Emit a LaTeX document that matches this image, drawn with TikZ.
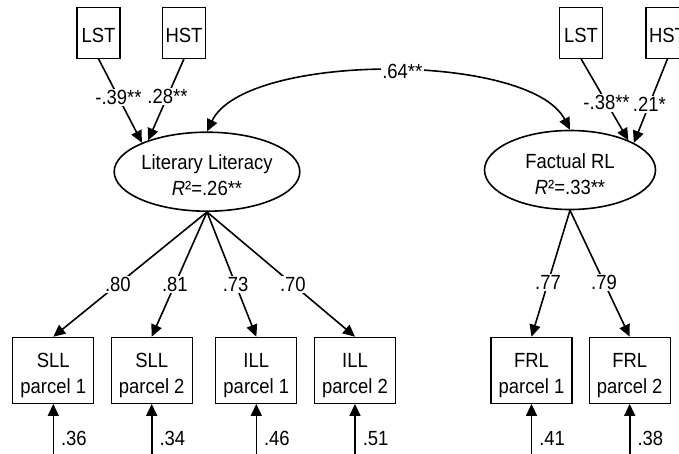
\documentclass[tikz,border=0pt]{standalone}
\usepackage{fontspec}
\setmainfont{Liberation Sans}[FakeStretch=0.9]
\usetikzlibrary{shapes.geometric,arrows.meta}
\newcommand{\obsstrut}{\rule{0pt}{24pt}}
\newcommand{\covstrut}{\rule{0pt}{20pt}}
\newcommand{\latstrut}{\rule{0pt}{22.5pt}}
\begin{document}
\begin{tikzpicture}[x=1pt,y=-1pt,
  font=\fontsize{20.5}{26}\selectfont,
  box/.style={draw, line width=1.2pt, inner sep=0pt, align=center},
  obs/.style={box, minimum width=81pt, minimum height=66pt},
  cov/.style={box, minimum width=43pt, minimum height=51pt},
  lat/.style={draw, ellipse, line width=1.6pt, inner sep=0pt, minimum width=171pt, minimum height=79pt, align=center},
  tip/.tip={Triangle[length=12pt,width=11pt]},
  arr/.style={line width=1.6pt, -tip},
  dbl/.style={line width=1.6pt, tip-tip},
  coef/.style={fill=white, inner sep=1.5pt},
  err/.style={anchor=west, inner sep=1pt, xshift=6pt}]
\useasboundingbox (0,0) rectangle (679,454);
\clip (0,0) rectangle (679,454);
% exogenous observed
\node[cov] (lst1) at (98.5,32.7) {\covstrut LST};
\node[cov] (hst1) at (184,32.7) {\covstrut HST};
\node[cov] (lst2) at (581,32.7) {\covstrut LST};
\node[cov] (hst2) at (667.5,32.7) {\covstrut HST};
% latent
\node[lat] (ll) at (207,171.7) {\latstrut Literary Literacy\\\textit{R}²=.26**};
\node[lat] (fr) at (570,170) {\latstrut Factual RL\\\textit{R}²=.33**};
% indicators
\node[obs] (s1) at (53.3,370.3) {\obsstrut SLL\\parcel 1};
\node[obs] (s2) at (151.7,370.3) {\obsstrut SLL\\parcel 2};
\node[obs] (i1) at (256.3,370.3) {\obsstrut ILL\\parcel 1};
\node[obs] (i2) at (355,370.3) {\obsstrut ILL\\parcel 2};
\node[obs] (f1) at (531.5,370.3) {\obsstrut FRL\\parcel 1};
\node[obs] (f2) at (629.7,370.3) {\obsstrut FRL\\parcel 2};
% error sources
\coordinate (e1) at (53.3,456);
\coordinate (e2) at (151.7,456);
\coordinate (e3) at (256.3,456);
\coordinate (e4) at (355,456);
\coordinate (e5) at (531.5,456);
\coordinate (e6) at (629.7,456);
% regressions
\draw[arr] (lst1.south) -- node[coef,pos=0.46]{-.39**} (ll.156);
\draw[arr] (hst1.south) -- node[coef,pos=0.46]{.28**} (ll.152);
\draw[arr] (lst2.south) -- node[coef,pos=0.54]{-.38**} (fr.27);
\draw[arr] (hst2.south) -- node[coef,pos=0.54]{.21*} (fr.23);
% covariance
\draw[dbl] (ll.north) .. controls (245,52) and (530,52) .. node[coef,pos=0.53]{.64**} (fr.north);
% loadings
\draw[arr] (ll.south) -- node[coef,pos=0.58]{.80} (s1.north);
\draw[arr] (ll.south) -- node[coef,pos=0.58]{.81} (s2.north);
\draw[arr] (ll.south) -- node[coef,pos=0.58]{.73} (i1.north);
\draw[arr] (ll.south) -- node[coef,pos=0.58]{.70} (i2.north);
\draw[arr] (fr.south) -- node[coef,pos=0.57]{.77} (f1.north);
\draw[arr] (fr.south) -- node[coef,pos=0.57]{.79} (f2.north);
% residuals
\draw[arr] (e1) -- node[err,pos=0.34]{.36} (s1.south);
\draw[arr] (e2) -- node[err,pos=0.34]{.34} (s2.south);
\draw[arr] (e3) -- node[err,pos=0.34]{.46} (i1.south);
\draw[arr] (e4) -- node[err,pos=0.34]{.51} (i2.south);
\draw[arr] (e5) -- node[err,pos=0.34]{.41} (f1.south);
\draw[arr] (e6) -- node[err,pos=0.34]{.38} (f2.south);
\end{tikzpicture}
\end{document}
